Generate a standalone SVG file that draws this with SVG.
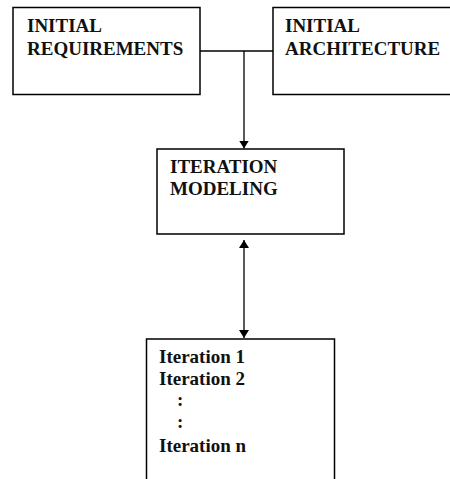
<svg xmlns="http://www.w3.org/2000/svg" width="450" height="479" viewBox="0 0 450 479">
<style>
.box{fill:#fff;stroke:#000;stroke-width:1.5}
.t{font-family:"Liberation Serif","Times New Roman",serif;font-weight:bold;font-size:19px;fill:#111}
.c{fill:none;stroke:#000;stroke-width:1.3}
</style>
<defs>
<marker id="ah" markerWidth="8" markerHeight="10" refX="8" refY="5" orient="auto" markerUnits="userSpaceOnUse" viewBox="0 0 8 10">
<path d="M0,0 L8,5 L0,10 z" fill="#000"/>
</marker>
<marker id="as" markerWidth="8" markerHeight="10" refX="0" refY="5" orient="auto" markerUnits="userSpaceOnUse" viewBox="0 0 8 10">
<path d="M8,0 L0,5 L8,10 z" fill="#000"/>
</marker>
</defs>
<rect width="450" height="479" fill="#fff"/>
<g id="connectors">
<path class="c" d="M200,51 H273"/>
<path class="c" d="M244,51 V148.5" marker-end="url(#ah)"/>
<path class="c" d="M244,240 V338" marker-start="url(#as)" marker-end="url(#ah)"/>
</g>
<g id="initial-requirements">
<rect class="box" x="13" y="7.5" width="187" height="87"/>
<text class="t" x="27" y="32">INITIAL</text>
<text class="t" x="27" y="55">REQUIREMENTS</text>
</g>
<g id="initial-architecture">
<rect class="box" x="273" y="7.5" width="190" height="87"/>
<text class="t" x="285" y="32">INITIAL</text>
<text class="t" x="285" y="55">ARCHITECTURE</text>
</g>
<g id="iteration-modeling">
<rect class="box" x="157" y="149" width="187" height="85"/>
<text class="t" x="170" y="173">ITERATION</text>
<text class="t" x="170" y="195">MODELING</text>
</g>
<g id="iterations">
<rect class="box" x="146.5" y="339" width="188" height="160"/>
<text class="t" x="159" y="363">Iteration 1</text>
<text class="t" x="159" y="385">Iteration 2</text>
<text class="t" x="177" y="406">:</text>
<text class="t" x="177" y="428">:</text>
<text class="t" x="159" y="452">Iteration n</text>
</g>
</svg>
